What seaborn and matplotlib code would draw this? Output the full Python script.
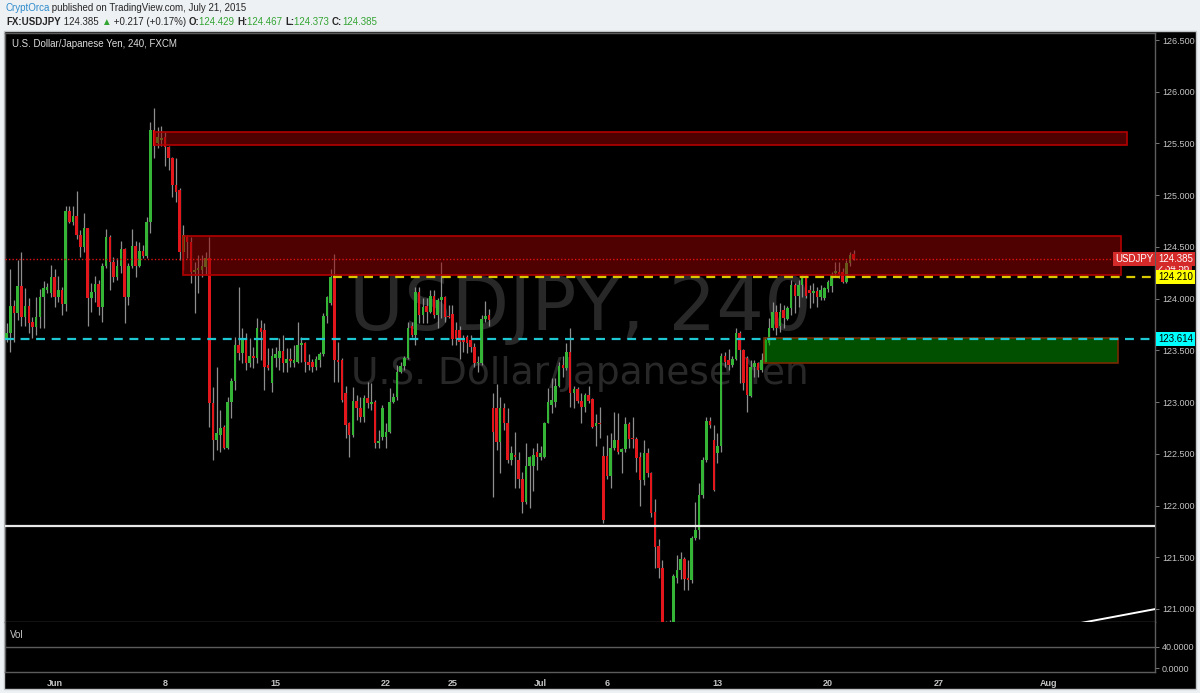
import matplotlib
matplotlib.use("Agg")
import matplotlib.pyplot as plt
import matplotlib.transforms as mtransforms
from matplotlib.patches import Rectangle
from matplotlib import font_manager
from matplotlib.colors import to_rgba
import numpy as np
import pandas as pd
import seaborn as sns

# 4h candles, USDJPY (FXCM), late May -> Jul 21 2015
opens = [
    123.61, 123.67, 123.93, 123.86, 124.12, 123.82, 123.93, 123.77, 123.73, 123.82,
    124.02, 124.08, 124.05, 124.21, 124.02, 124.08, 123.95, 124.85, 124.74, 124.80,
    124.62, 124.50, 124.68, 124.01, 124.06, 124.14, 123.92, 124.32, 124.60, 124.35,
    124.21, 124.32, 124.48, 124.02, 124.32, 124.51, 124.32, 124.46, 124.41, 124.74,
    125.63, 125.50, 125.53, 125.56, 125.47, 125.36, 125.10, 125.05, 124.45, 124.60,
    124.55, 124.26, 124.28, 124.28, 124.31, 124.39, 122.99, 122.63, 122.68, 122.76,
    122.56, 123.00, 123.20, 123.55, 123.47, 123.62, 123.38, 123.45, 123.43, 123.72,
    123.70, 123.36, 123.18, 123.43, 123.43, 123.49, 123.38, 123.42, 123.38, 123.39,
    123.55, 123.57, 123.39, 123.39, 123.34, 123.41, 123.46, 123.83, 123.96, 124.21,
    123.41, 123.41, 123.09, 122.80, 122.68, 123.01, 122.94, 122.86, 123.04, 122.98,
    123.00, 122.60, 122.66, 122.66, 122.71, 123.00, 123.05, 123.29, 123.35, 123.43,
    123.74, 123.65, 124.06, 123.84, 123.93, 123.87, 124.03, 123.84, 123.99, 124.02,
    123.83, 123.85, 123.70, 123.70, 123.60, 123.63, 123.60, 123.53, 123.38, 123.38,
    123.80, 123.84, 122.94, 122.94, 122.61, 122.94, 122.80, 122.44, 122.49, 122.44,
    122.26, 122.03, 122.38, 122.38, 122.52, 122.47, 122.47, 122.80, 122.97, 123.00,
    123.16, 123.36, 123.33, 123.48, 123.09, 123.13, 123.01, 122.95, 123.07, 123.03,
    122.77, 122.80, 122.48, 122.48, 122.29, 122.56, 122.63, 122.52, 122.55, 122.79,
    122.65, 122.64, 122.47, 122.25, 122.51, 122.31, 121.94, 121.61, 121.40, 120.84,
    120.55, 120.78, 121.30, 121.38, 121.48, 121.30, 121.28, 121.69, 121.76, 122.10,
    122.44, 122.82, 122.63, 122.51, 122.58, 123.45, 123.41, 123.36, 123.42, 123.67,
    123.50, 123.43, 123.06, 123.34, 123.38, 123.31, 123.39, 123.57, 123.72, 123.87,
    123.74, 123.89, 123.80, 123.91, 124.13, 124.03, 124.13, 124.21, 124.08, 124.05,
    124.07, 124.02, 124.01, 124.09, 124.12, 124.25, 124.26, 124.26, 124.16, 124.34,
    124.429,
]
highs = [
    123.76, 124.29, 123.99, 124.37, 124.45, 124.10, 124.01, 123.82, 124.02, 124.09,
    124.17, 124.15, 124.33, 124.29, 124.22, 124.11, 124.90, 124.90, 124.90, 125.04,
    124.66, 124.83, 124.68, 124.15, 124.22, 124.18, 124.34, 124.67, 124.62, 124.40,
    124.39, 124.56, 124.49, 124.34, 124.67, 124.56, 124.55, 124.52, 124.79, 125.71,
    125.84, 125.66, 125.67, 125.61, 125.48, 125.37, 125.36, 125.07, 124.71, 124.62,
    124.60, 124.35, 124.42, 124.42, 124.45, 124.60, 123.15, 123.34, 122.92, 122.78,
    123.05, 123.23, 123.63, 124.11, 123.72, 123.67, 123.62, 123.53, 123.81, 123.79,
    123.76, 123.52, 123.52, 123.53, 123.62, 123.65, 123.52, 123.52, 123.55, 123.77,
    123.63, 123.58, 123.46, 123.42, 123.45, 123.48, 123.86, 124.03, 124.29, 124.43,
    123.58, 123.43, 123.16, 122.81, 123.15, 123.07, 123.05, 123.07, 123.19, 123.18,
    123.02, 122.73, 122.97, 122.80, 123.14, 123.09, 123.36, 123.39, 123.45, 123.77,
    123.77, 124.11, 124.11, 124.01, 124.01, 124.08, 124.08, 124.01, 124.35, 124.03,
    123.94, 123.94, 123.77, 123.74, 123.65, 123.65, 123.65, 123.57, 123.45, 123.84,
    123.98, 123.90, 123.09, 123.17, 123.05, 122.99, 122.94, 122.58, 122.71, 122.52,
    122.32, 122.60, 122.48, 122.56, 122.60, 122.58, 122.81, 123.14, 123.23, 123.23,
    123.39, 123.45, 123.57, 123.72, 123.16, 123.15, 123.09, 123.09, 123.16, 123.04,
    122.88, 122.95, 122.58, 122.68, 122.70, 122.90, 122.89, 122.56, 122.86, 122.81,
    122.86, 122.66, 122.52, 122.63, 122.56, 122.32, 122.06, 121.68, 121.47, 120.88,
    120.89, 121.34, 121.52, 121.55, 121.50, 121.47, 121.71, 122.03, 122.22, 122.47,
    122.86, 122.86, 122.78, 122.70, 123.47, 123.48, 123.51, 123.45, 123.72, 123.69,
    123.51, 123.45, 123.41, 123.41, 123.39, 123.47, 123.63, 123.81, 123.97, 123.94,
    123.96, 123.94, 123.93, 124.18, 124.15, 124.18, 124.23, 124.23, 124.13, 124.15,
    124.11, 124.13, 124.11, 124.18, 124.26, 124.35, 124.35, 124.30, 124.37, 124.45,
    124.467,
]
lows = [
    123.58, 123.48, 123.58, 123.79, 123.74, 123.74, 123.67, 123.62, 123.65, 123.72,
    123.72, 124.05, 124.02, 123.92, 123.97, 123.84, 123.88, 124.73, 124.71, 124.58,
    124.40, 124.45, 123.74, 123.87, 123.97, 123.84, 123.77, 124.30, 124.08, 124.16,
    124.18, 124.25, 123.76, 123.94, 124.30, 124.21, 124.31, 124.39, 124.39, 124.63,
    125.36, 125.46, 125.48, 125.28, 125.24, 124.98, 124.93, 124.37, 124.28, 124.39,
    124.15, 123.86, 124.05, 124.21, 124.23, 122.76, 122.44, 122.54, 122.52, 122.55,
    122.55, 122.85, 123.12, 123.41, 123.38, 123.31, 123.34, 123.33, 123.38, 123.41,
    123.12, 123.31, 123.10, 123.34, 123.31, 123.29, 123.29, 123.34, 123.34, 123.38,
    123.39, 123.29, 123.31, 123.29, 123.31, 123.34, 123.45, 123.76, 123.94, 123.19,
    123.19, 123.00, 122.65, 122.47, 122.66, 122.83, 122.81, 122.81, 122.94, 122.92,
    122.56, 122.56, 122.63, 122.56, 122.70, 122.99, 123.02, 123.28, 123.31, 123.42,
    123.63, 123.55, 123.76, 123.76, 123.76, 123.86, 123.81, 123.72, 123.81, 123.77,
    123.81, 123.55, 123.55, 123.42, 123.48, 123.47, 123.48, 123.34, 123.29, 123.36,
    123.77, 123.74, 122.08, 122.54, 122.31, 122.73, 122.41, 122.39, 122.17, 122.17,
    121.93, 122.01, 121.98, 122.14, 122.34, 122.44, 122.46, 122.80, 122.89, 122.95,
    123.15, 123.24, 123.31, 122.95, 122.94, 122.99, 122.80, 122.90, 122.99, 122.75,
    122.58, 122.65, 121.83, 122.26, 122.17, 122.54, 122.50, 122.31, 122.52, 122.56,
    122.56, 122.32, 122.00, 122.20, 122.28, 121.89, 121.40, 121.30, 120.80, 120.41,
    120.45, 120.70, 121.25, 121.29, 121.18, 121.18, 121.25, 121.67, 121.68, 122.07,
    122.42, 122.75, 122.14, 122.41, 122.52, 123.34, 123.31, 123.34, 123.41, 123.18,
    123.12, 122.90, 123.05, 123.24, 123.24, 123.29, 123.38, 123.55, 123.70, 123.65,
    123.68, 123.72, 123.79, 123.84, 123.86, 123.92, 124.02, 124.01, 123.91, 123.96,
    123.92, 123.99, 123.99, 124.06, 124.06, 124.21, 124.20, 124.15, 124.15, 124.32,
    124.373,
]
closes = [
    123.67, 123.93, 123.86, 124.12, 123.82, 123.93, 123.76, 123.73, 123.82, 124.02,
    124.10, 124.11, 124.21, 124.02, 124.08, 123.95, 124.85, 124.74, 124.80, 124.62,
    124.50, 124.68, 124.01, 124.06, 124.14, 123.92, 124.32, 124.60, 124.35, 124.21,
    124.32, 124.48, 124.02, 124.32, 124.51, 124.32, 124.46, 124.41, 124.74, 125.63,
    125.48, 125.56, 125.55, 125.47, 125.36, 125.10, 125.03, 124.45, 124.62, 124.55,
    124.26, 124.28, 124.30, 124.32, 124.39, 122.99, 122.63, 122.70, 122.75, 122.56,
    123.00, 123.20, 123.55, 123.47, 123.62, 123.38, 123.45, 123.43, 123.72, 123.68,
    123.34, 123.33, 123.45, 123.46, 123.49, 123.38, 123.42, 123.40, 123.41, 123.55,
    123.57, 123.39, 123.36, 123.34, 123.42, 123.46, 123.83, 124.02, 124.21, 123.41,
    123.39, 123.02, 122.78, 122.68, 123.01, 122.94, 122.86, 123.04, 122.99, 123.00,
    122.60, 122.62, 122.94, 122.71, 123.00, 123.05, 123.29, 123.35, 123.43, 123.72,
    123.65, 124.06, 123.84, 123.92, 123.87, 124.03, 123.84, 123.99, 124.02, 123.82,
    123.82, 123.61, 123.61, 123.58, 123.58, 123.57, 123.53, 123.38, 123.39, 123.80,
    123.83, 123.79, 122.71, 122.61, 122.94, 122.80, 122.44, 122.51, 122.47, 122.26,
    122.03, 122.38, 122.47, 122.49, 122.47, 122.51, 122.80, 123.00, 123.02, 123.16,
    123.35, 123.33, 123.48, 123.09, 123.13, 123.01, 122.95, 123.07, 123.01, 122.76,
    122.80, 122.79, 121.86, 122.29, 122.56, 122.63, 122.52, 122.55, 122.79, 122.64,
    122.64, 122.46, 122.25, 122.51, 122.31, 121.93, 121.60, 121.40, 120.84, 120.55,
    120.78, 121.32, 121.38, 121.48, 121.29, 121.28, 121.69, 121.76, 122.10, 122.44,
    122.82, 122.78, 122.15, 122.58, 123.45, 123.39, 123.36, 123.42, 123.67, 123.50,
    123.18, 123.07, 123.34, 123.38, 123.31, 123.41, 123.60, 123.72, 123.87, 123.72,
    123.87, 123.81, 123.91, 124.13, 124.03, 124.13, 124.21, 124.03, 124.05, 124.07,
    124.02, 124.08, 124.10, 124.16, 124.23, 124.27, 124.24, 124.16, 124.34, 124.42,
    124.385,
]

# drawings on the chart (candle index / price)
zone_start = [40.3, 47.8, 205.6]
zone_end = [304.2, 302.7, 301.7]
zone_low = [125.49, 124.23, 123.38]
zone_high = [125.61, 124.61, 123.62]
zone_fill = ['#990000', '#990000', '#009a00']
zone_edge = ['#b30000', '#b30000', '#7a2a00']

last_price = 124.385
countdown = '2:34:56'
yellow_level = 124.210
yellow_from = 88.5
cyan_level = 123.614
support_level = 121.80
trend_x = [285, 312]
trend_y = [120.82, 121.00]

price_ticks = [121.0, 121.5, 122.0, 122.5, 123.0, 123.5, 124.0, 124.5, 125.0, 125.5, 126.0, 126.5]
vol_ticks = [0, 40]
date_pos = [13, 43, 73, 103, 121, 145, 163, 193, 223, 253, 283]
date_labels = ['Jun', '8', '15', '22', '25', 'Jul', '6', '13', '20', '27', 'Aug']

W, H = 1200, 693


def fx(px):
    return px / W


def fy(py):
    return 1 - py / H


sns.set_style("dark", {"axes.facecolor": "black"})
installed = {f.name for f in font_manager.fontManager.ttflist}
narrow = 'Liberation Sans Narrow' in installed
plt.rcParams['font.family'] = ['Liberation Sans Narrow' if narrow else 'Liberation Sans', 'DejaVu Sans']
hsize = 8 if narrow else 7

fig = plt.figure(figsize=(12, 6.93), dpi=100)
fig.patch.set_facecolor('#eef1f4')
fig.add_artist(Rectangle((fx(4), fy(689)), fx(1196) - fx(4), fy(31) - fy(689),
                         transform=fig.transFigure, fc='black', ec='#c3c6c9', lw=1, zorder=-5))

ax = fig.add_axes([fx(5), fy(622), fx(1155) - fx(5), fy(33) - fy(622)])
vax = fig.add_axes([fx(5), fy(672), fx(1155) - fx(5), fy(622) - fy(672)], sharex=ax)
for a in (ax, vax):
    a.set_facecolor('black')
    for s in a.spines.values():
        s.set_color('#5c5c5c')
        s.set_linewidth(1)

df = pd.DataFrame({'open': opens, 'high': highs, 'low': lows, 'close': closes})
df['i'] = np.arange(len(df))
up = df['close'] >= df['open']
body_lo = df[['open', 'close']].min(axis=1)
body_h = (df['close'] - df['open']).abs().clip(lower=0.012)

wm = mtransforms.blended_transform_factory(ax.transAxes, ax.transData)

# watermark
ax.text(0.5, 123.70, 'USDJPY, 240', transform=wm, ha='center', va='baseline',
        fontsize=54, color='#282828', family='DejaVu Sans', zorder=1)
ax.text(0.5, 123.17, 'U.S. Dollar/Japanese Yen', transform=wm, ha='center', va='baseline',
        fontsize=27, color='#282828', family='DejaVu Sans', zorder=1)

# candles
ax.vlines(df['i'], df['low'], df['high'], color='#8e8e8e', lw=0.9, zorder=2)
ax.bar(df['i'], body_h, bottom=body_lo, width=0.7,
       color=np.where(up, '#35b535', '#e3161b'), lw=0, zorder=3)

# zones
for x0, x1, lo, hi, fc, ec in zip(zone_start, zone_end, zone_low, zone_high, zone_fill, zone_edge):
    ax.add_patch(Rectangle((x0, lo), x1 - x0, hi - lo, fc=to_rgba(fc, 0.52), ec=ec, lw=1.2, zorder=4))

xmin, xmax = -0.46, 311.8
ax.axhline(last_price, color='#e01414', ls=(0, (1, 1.5)), lw=1.0, zorder=5)
ax.hlines(yellow_level, yellow_from, xmax, color='#d8c800', ls=(0, (4, 3)), lw=1.6, zorder=5)
ax.axhline(cyan_level, color='#1ec8d2', ls=(0, (4, 3)), lw=1.6, zorder=5)
ax.axhline(support_level, color='#e8e8e8', lw=1.6, zorder=5)
sns.lineplot(x=trend_x, y=trend_y, ax=ax, color='white', lw=1.4, legend=False, zorder=5)

ax.set_xlim(xmin, xmax)
ax.set_ylim(120.874, 126.568)
ax.set_xlabel('')
ax.set_ylabel('')

ax.yaxis.tick_right()
ax.set_yticks(price_ticks)
ax.set_yticklabels([f'{p:.3f}' for p in price_ticks])
ax.tick_params(axis='y', direction='out', length=3, width=0.7, color='#7a7a7a',
               labelcolor='#c4c4c4', labelsize=6.5, pad=2)
ax.tick_params(axis='x', bottom=False, labelbottom=False)


def price_tag(y, text, fc, tc, x=1.0025, ha='left', z=6):
    ax.text(x, y, text, transform=wm, ha=ha, va='center', fontsize=7, color=tc,
            clip_on=False, zorder=z,
            bbox=dict(boxstyle='square,pad=0.2', fc=fc, ec='none'))


price_tag(124.30, countdown, '#d42a2a', 'white', z=6)
price_tag(last_price, f'{last_price:.3f}', '#d42a2a', 'white', z=7)
price_tag(last_price, 'USDJPY', '#d42a2a', 'white', x=0.9985, ha='right', z=7)
price_tag(yellow_level, f'{yellow_level:.3f}', '#ffff00', 'black', z=8)
price_tag(cyan_level, f'{cyan_level:.3f}', '#00ffff', 'black', z=8)

# volume pane
vax.set_ylim(-7.6, 87.6)
vax.axhline(40, color='#5c5c5c', lw=1)
vax.yaxis.tick_right()
vax.set_yticks(vol_ticks)
vax.set_yticklabels([f'{v:.4f}' for v in vol_ticks])
vax.tick_params(axis='y', direction='out', length=3, width=0.7, color='#7a7a7a',
                labelcolor='#c4c4c4', labelsize=6.5, pad=2)
vax.spines['top'].set_visible(False)
vax.set_xticks(date_pos)
vax.set_xticklabels(date_labels, fontweight='bold')
vax.tick_params(axis='x', direction='out', length=2, width=0.7, color='#7a7a7a',
                labelcolor='#c4c4c4', labelsize=6.5, pad=3)
vax.set_xlim(xmin, xmax)

fig.text(fx(10), fy(635), 'Vol', color='#c8c8c8', fontsize=hsize, va='center')
fig.text(fx(12), fy(44), 'U.S. Dollar/Japanese Yen, 240, FXCM', color='#dcdcdc',
         fontsize=hsize, va='center')

# header
renderer = fig.canvas.get_renderer()


def chain(x, y, pieces):
    for text, color, weight in pieces:
        t = fig.text(fx(x), fy(y), text, color=color, fontsize=hsize, fontweight=weight, va='center')
        x += t.get_window_extent(renderer).width


dark = '#262626'
green = '#33a532'
chain(5, 8, [('CryptOrca', '#2e8bcc', 'normal'),
             (' published on TradingView.com, July 21, 2015', dark, 'normal')])
chain(6, 22, [('FX:USDJPY', dark, 'bold'), (' 124.385 ', dark, 'normal'),
              ('▲', green, 'normal'), (' +0.217 (+0.17%) ', dark, 'normal'),
              ('O:', dark, 'bold'), ('124.429 ', green, 'normal'),
              ('H:', dark, 'bold'), ('124.467 ', green, 'normal'),
              ('L:', dark, 'bold'), ('124.373 ', green, 'normal'),
              ('C:', dark, 'bold'), ('124.385', green, 'normal')])

fig.savefig('out.png', dpi=100, facecolor=fig.get_facecolor())
